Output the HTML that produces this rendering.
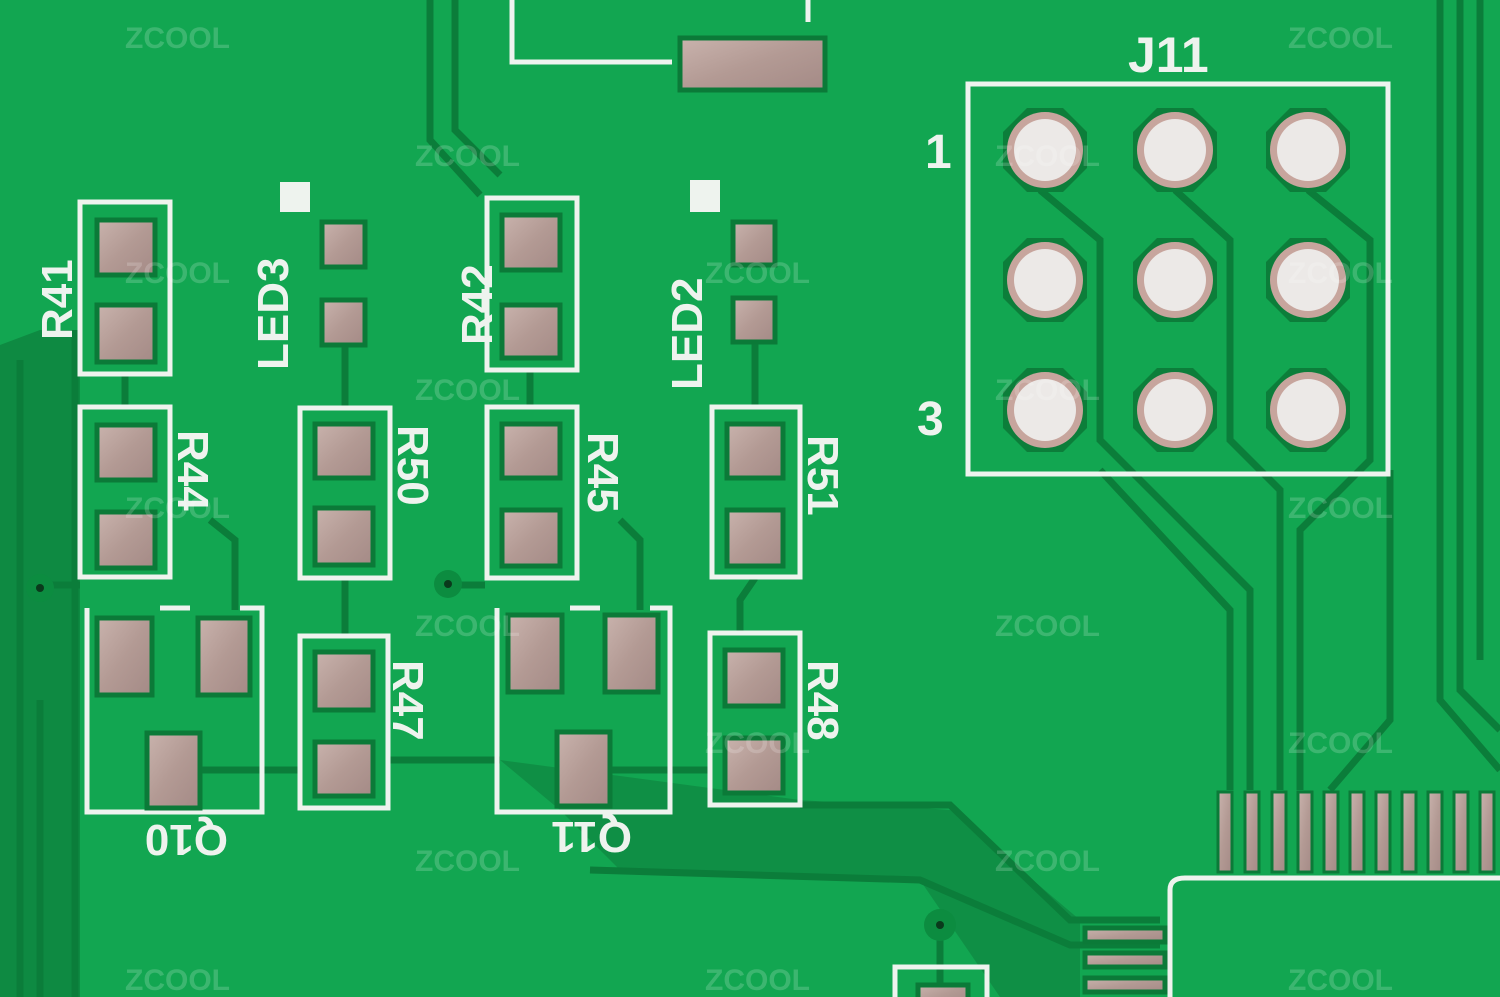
<!DOCTYPE html>
<html><head><meta charset="utf-8"><style>
html,body{margin:0;padding:0;background:#12a651;}
svg{display:block}
text{font-family:"Liberation Sans",sans-serif;}
</style></head><body>
<svg width="1500" height="997" viewBox="0 0 1500 997" xmlns="http://www.w3.org/2000/svg">
<defs>
<linearGradient id="cu" x1="0" y1="0" x2="1" y2="1">
<stop offset="0" stop-color="#c9b3ad"/><stop offset="0.5" stop-color="#b39a94"/><stop offset="1" stop-color="#a48a86"/>
</linearGradient>
<g id="h"><polygon points="-18,-42 18,-42 42,-18 42,18 18,42 -18,42 -42,18 -42,-18" fill="#0c7e3a"/><circle r="38" fill="#c7a59d"/><circle r="31" fill="#ece9e7"/></g>
</defs>
<rect width="1500" height="997" fill="#12a651"/>
<path d="M0 345 L40 330 L80 330 L80 997 L0 997Z" fill="#0e8a42"/>
<path d="M500 760 L800 800 L950 810 L1080 920 L1080 997 L1000 997 L920 880 L620 870 L560 810Z" fill="#0f8f45"/>
<g fill="none" stroke="#0b7d3a" stroke-width="7">
<path d="M430 0 L430 140 L480 195"/>
<path d="M455 0 L455 130 L500 175"/>
<path d="M20 360 L20 997"/>
<path d="M75 330 L75 997"/>
<path d="M125 375 L125 405"/><path d="M345 345 L345 408"/><path d="M530 372 L530 405"/><path d="M755 342 L755 405"/>
<path d="M210 520 L235 540 L235 610"/>
<path d="M345 578 L345 635"/><path d="M755 578 L740 600 L740 632"/>
<path d="M620 520 L640 540 L640 610"/>
<path d="M40 585 L80 585"/><path d="M440 585 L485 585"/>
<path d="M40 700 L40 997"/>
<path d="M200 770 L300 770"/><path d="M390 760 L500 760"/><path d="M610 770 L710 770"/>
<path d="M800 805 L950 805 L1070 920 L1160 920"/>
<path d="M590 870 L920 880 L1070 945 L1160 945"/>
<path d="M1040 190 L1100 240 L1100 440 L1250 590 L1250 790"/>
<path d="M1175 190 L1230 240 L1230 440 L1280 490 L1280 790"/>
<path d="M1308 190 L1370 240 L1370 460 L1300 530 L1300 790"/>
<path d="M1100 470 L1230 610 L1230 790"/>
<path d="M1440 0 L1440 700 L1500 770"/><path d="M1460 0 L1460 690 L1500 730"/><path d="M1480 0 L1480 660"/>
<path d="M1390 470 L1390 720 L1330 790"/>
<path d="M940 940 L940 997"/>
</g>
<g fill="#0c8c40"><circle cx="40" cy="588" r="14"/><circle cx="448" cy="584" r="14"/><circle cx="940" cy="925" r="16"/></g>
<g fill="#0a3a1c"><circle cx="40" cy="588" r="4"/><circle cx="448" cy="584" r="4"/><circle cx="940" cy="925" r="4"/></g>

<g fill="none" stroke="#eef3ee" stroke-width="5">
<path d="M512 0 L512 62 L672 62"/><path d="M808 0 L808 22"/>
<rect x="80" y="202" width="90" height="172"/>
<rect x="487" y="198" width="90" height="172"/>
<rect x="80" y="407" width="90" height="170"/>
<rect x="300" y="408" width="90" height="170"/>
<rect x="487" y="407" width="90" height="171"/>
<rect x="712" y="407" width="88" height="170"/>
<path d="M87 608 L87 812 L262 812 L262 608 L240 608"/><path d="M160 608 L190 608"/>
<rect x="300" y="636" width="88" height="172"/>
<path d="M497 608 L497 812 L670 812 L670 608 L650 608"/><path d="M570 608 L600 608"/>
<rect x="710" y="633" width="90" height="172"/>
<rect x="968" y="84" width="420" height="390"/>
<path d="M1170 997 L1170 890 Q1170 878 1185 878 L1500 878"/>
<rect x="895" y="967" width="92" height="40"/>
</g>
<g fill="#eef3ee"><rect x="280" y="182" width="30" height="30"/><rect x="690" y="180" width="30" height="32"/></g>

<g fill="url(#cu)" stroke="#0b7a38" stroke-width="5">
<rect x="680" y="38" width="145" height="52"/>
<rect x="97" y="220" width="58" height="55"/><rect x="97" y="305" width="58" height="57"/>
<rect x="322" y="222" width="43" height="45"/><rect x="322" y="300" width="43" height="45"/>
<rect x="502" y="215" width="58" height="55"/><rect x="502" y="305" width="58" height="53"/>
<rect x="733" y="222" width="42" height="43"/><rect x="733" y="298" width="42" height="44"/>
<rect x="97" y="425" width="58" height="55"/><rect x="97" y="512" width="58" height="56"/>
<rect x="315" y="424" width="58" height="54"/><rect x="315" y="508" width="58" height="57"/>
<rect x="502" y="424" width="58" height="54"/><rect x="502" y="510" width="58" height="56"/>
<rect x="727" y="424" width="56" height="54"/><rect x="727" y="510" width="56" height="56"/>
<rect x="97" y="618" width="55" height="77"/><rect x="198" y="618" width="52" height="77"/><rect x="147" y="733" width="53" height="75"/>
<rect x="315" y="652" width="58" height="58"/><rect x="315" y="742" width="58" height="54"/>
<rect x="508" y="615" width="54" height="77"/><rect x="605" y="615" width="53" height="77"/><rect x="557" y="732" width="53" height="74"/>
<rect x="725" y="650" width="58" height="56"/><rect x="725" y="738" width="58" height="55"/>
<rect x="1085" y="928" width="80" height="14"/><rect x="1085" y="953" width="80" height="14"/><rect x="1085" y="978" width="80" height="14"/>
<rect x="918" y="985" width="50" height="20"/>
</g>
<g fill="url(#cu)" stroke="#0b7a38" stroke-width="3">
<rect x="1218" y="792" width="14" height="80"/><rect x="1245" y="792" width="14" height="80"/><rect x="1272" y="792" width="14" height="80"/><rect x="1298" y="792" width="14" height="80"/><rect x="1324" y="792" width="14" height="80"/><rect x="1350" y="792" width="14" height="80"/><rect x="1376" y="792" width="14" height="80"/><rect x="1402" y="792" width="14" height="80"/><rect x="1428" y="792" width="14" height="80"/><rect x="1454" y="792" width="14" height="80"/><rect x="1480" y="792" width="14" height="80"/>
</g>
<use href="#h" x="1045" y="150"/><use href="#h" x="1175" y="150"/><use href="#h" x="1308" y="150"/>
<use href="#h" x="1045" y="280"/><use href="#h" x="1175" y="280"/><use href="#h" x="1308" y="280"/>
<use href="#h" x="1045" y="410"/><use href="#h" x="1175" y="410"/><use href="#h" x="1308" y="410"/>

<g fill="#eef3ee" font-size="44" font-weight="bold">
<text x="1128" y="72" font-size="50">J11</text>
<text x="925" y="168" font-size="48">1</text>
<text x="917" y="435" font-size="48">3</text>
<text transform="translate(72,340) rotate(-90)">R41</text>
<text transform="translate(288,370) rotate(-90)">LED3</text>
<text transform="translate(492,345) rotate(-90)">R42</text>
<text transform="translate(702,390) rotate(-90)">LED2</text>
<text transform="translate(178,430) rotate(90)">R44</text>
<text transform="translate(398,425) rotate(90)">R50</text>
<text transform="translate(588,432) rotate(90)">R45</text>
<text transform="translate(808,435) rotate(90)">R51</text>
<text transform="translate(393,660) rotate(90)">R47</text>
<text transform="translate(808,660) rotate(90)">R48</text>
<text transform="translate(228,825) rotate(180)">Q10</text>
<text transform="translate(632,822) rotate(180)">Q11</text>
</g>
<g fill="#ffffff" fill-opacity="0.18" font-size="30" font-weight="bold">
<text x="125" y="48">ZCOOL</text><text x="1288" y="48">ZCOOL</text><text x="415" y="166">ZCOOL</text>
<text x="125" y="283">ZCOOL</text><text x="705" y="283">ZCOOL</text><text x="1288" y="283">ZCOOL</text>
<text x="415" y="400">ZCOOL</text><text x="995" y="166">ZCOOL</text><text x="995" y="400">ZCOOL</text>
<text x="125" y="518">ZCOOL</text><text x="1288" y="518">ZCOOL</text>
<text x="415" y="636">ZCOOL</text><text x="995" y="636">ZCOOL</text>
<text x="705" y="753">ZCOOL</text><text x="1288" y="753">ZCOOL</text>
<text x="415" y="871">ZCOOL</text><text x="995" y="871">ZCOOL</text>
<text x="125" y="990">ZCOOL</text><text x="705" y="990">ZCOOL</text><text x="1288" y="990">ZCOOL</text>
</g>
</svg>
</body></html>
